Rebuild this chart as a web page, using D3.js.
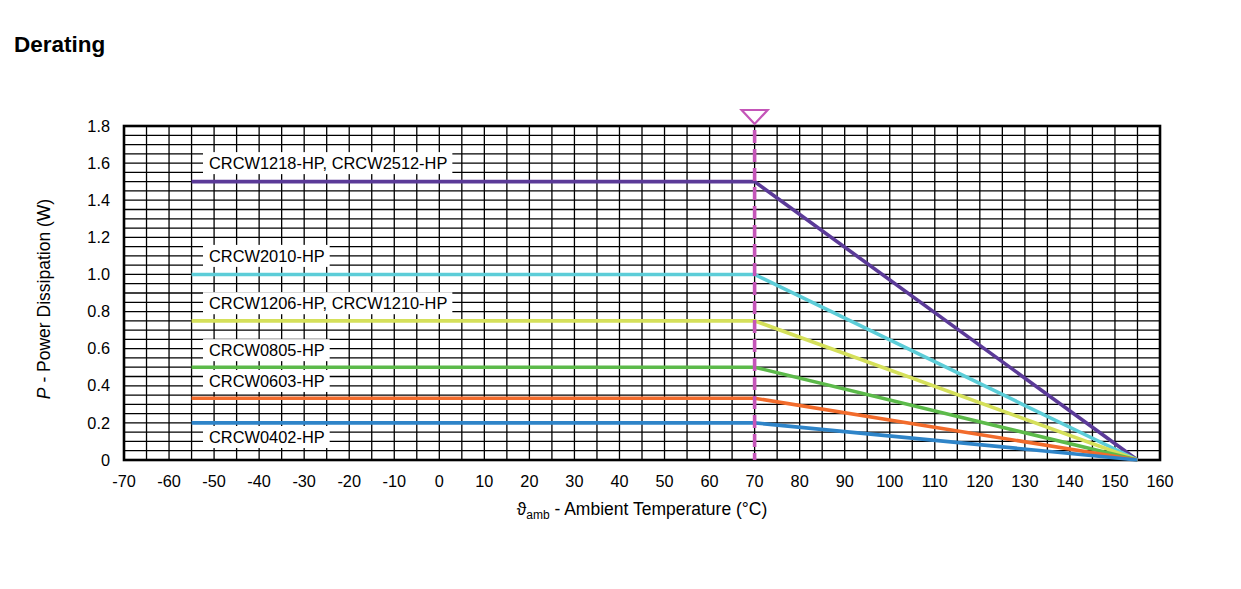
<!DOCTYPE html>
<html>
<head>
<meta charset="utf-8">
<script src="https://cdn.jsdelivr.net/npm/d3@7"></script>
<style>
  body { margin: 0; background: #fff; }
  svg { display: block; font-family: "Liberation Sans", Arial, sans-serif; }
</style>
</head>
<body>
<svg id="chart" width="1241" height="589"></svg>
<script>
// ---- data ----
const seriesNames = ["CRCW1218-HP, CRCW2512-HP", "CRCW2010-HP", "CRCW1206-HP, CRCW1210-HP", "CRCW0805-HP", "CRCW0603-HP", "CRCW0402-HP"];
const ratedPower = [1.5, 1.0, 0.75, 0.5, 0.333, 0.2];
const seriesColors = ["#5b3a98", "#5ccdd8", "#d5e05a", "#5cba4a", "#f26b2b", "#2e84c8"];
const labelPower = [1.6, 1.1, 0.845, 0.592, 0.426, 0.124];
const tempStart = -55, tempKnee = 70, tempEnd = 155;
const xTicks = [-70,-60,-50,-40,-30,-20,-10,0,10,20,30,40,50,60,70,80,90,100,110,120,130,140,150,160];
const yTicks = [0,0.2,0.4,0.6,0.8,1.0,1.2,1.4,1.6,1.8];

const svg = d3.select("#chart");
const L = 124, R = 1160, T = 126, B = 460;
const x = d3.scaleLinear().domain([-70,160]).range([L,R]);
const y = d3.scaleLinear().domain([0,1.8]).range([B,T]);

// title
svg.append("text").attr("x",14).attr("y",52).attr("font-size",22.5).attr("font-weight","bold").text("Derating");

// grid
const g = svg.append("g");
const vGrid = d3.range(-65, 160, 5);
const hGrid = d3.range(1, 36).map(i => i*0.05);
g.selectAll(".vg").data(vGrid).enter().append("line")
  .attr("x1", d=>x(d)).attr("x2", d=>x(d)).attr("y1", T).attr("y2", B)
  .attr("stroke", "#000").attr("stroke-width", 1.3);
g.selectAll(".hg").data(hGrid).enter().append("line")
  .attr("y1", d=>y(d)).attr("y2", d=>y(d)).attr("x1", L).attr("x2", R)
  .attr("stroke", "#000").attr("stroke-width", 1.3);

// label boxes
const lab = svg.append("g");
seriesNames.forEach((n,i)=>{
  const t = lab.append("text").attr("x", 209).attr("y", y(labelPower[i])).attr("dy","0.35em")
    .attr("font-size",16.4).text(n);
  const w = t.node().getComputedTextLength();
  lab.insert("rect","text").attr("x",203).attr("y", y(labelPower[i]) - 11).attr("width", w + 11).attr("height", 22).attr("fill","#fff");
});

// axes frame
svg.append("rect").attr("x",L).attr("y",T).attr("width",R-L).attr("height",B-T)
  .attr("fill","none").attr("stroke","#000").attr("stroke-width",2.6);

// curves
const line = d3.line().x(d=>x(d[0])).y(d=>y(d[1]));
ratedPower.forEach((p,i)=>{
  svg.append("path").datum([[tempStart,p],[tempKnee,p],[tempEnd,0]])
    .attr("d", line).attr("fill","none").attr("stroke", seriesColors[i]).attr("stroke-width",3.6)
    .attr("stroke-linejoin","miter");
});

// knee marker
svg.append("line").attr("x1",x(tempKnee)).attr("x2",x(tempKnee)).attr("y1",T+4).attr("y2",B)
  .attr("stroke","#c455b8").attr("stroke-width",3.6).attr("stroke-dasharray","13,6");
const tx = x(tempKnee);
svg.append("path").attr("d", `M${tx-13},${T-16} L${tx+13},${T-16} L${tx},${T-2} Z`)
  .attr("fill","#fff").attr("stroke","#c455b8").attr("stroke-width",2.2);

// tick labels
svg.selectAll(".xt").data(xTicks).enter().append("text")
  .attr("x", d=>x(d)).attr("y", 487).attr("text-anchor","middle").attr("font-size",16.3).text(d=>d);
svg.selectAll(".yt").data(yTicks).enter().append("text")
  .attr("x", 110).attr("y", d=>y(d)).attr("dy","0.35em").attr("text-anchor","end").attr("font-size",16.3)
  .text(d=> d===0 ? "0" : d3.format(".1f")(d));

// axis titles
const xt = svg.append("text").attr("x", 642).attr("y", 515).attr("text-anchor","middle").attr("font-size",17.5);
xt.append("tspan").text("\u03D1");
xt.append("tspan").attr("font-size",12).attr("dy",4).text("amb");
xt.append("tspan").attr("dy",-4).text(" - Ambient Temperature (\u00B0C)");

const yt = svg.append("text").attr("transform","translate(50,299) rotate(-90)").attr("text-anchor","middle").attr("font-size",17.5);
yt.append("tspan").attr("font-style","italic").text("P");
yt.append("tspan").text(" - Power Dissipation (W)");
</script>
</body>
</html>
